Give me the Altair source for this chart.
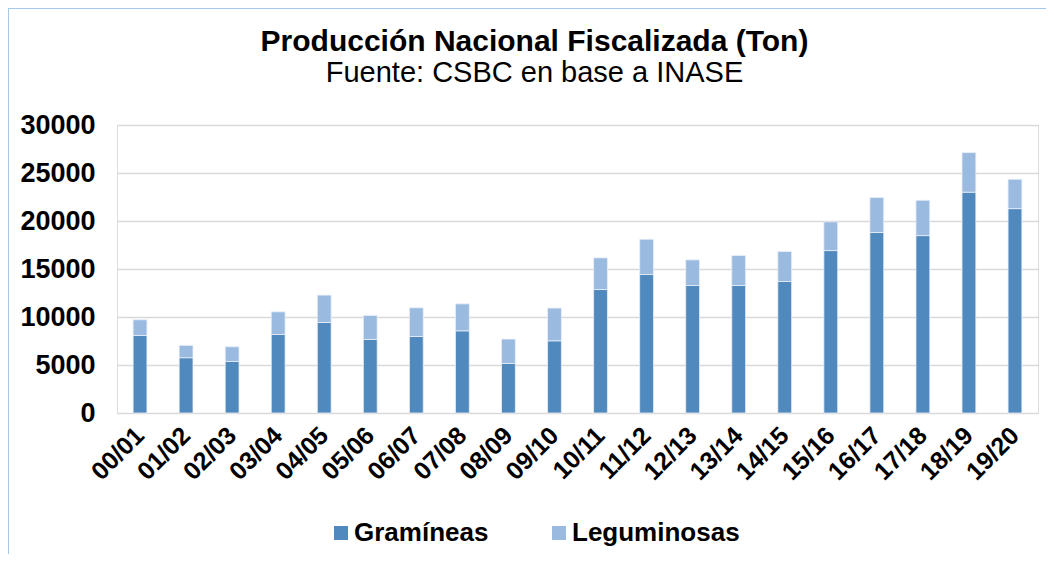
import altair as alt
import pandas as pd

seasons = ["00/01", "01/02", "02/03", "03/04", "04/05", "05/06", "06/07", "07/08", "08/09", "09/10",
           "10/11", "11/12", "12/13", "13/14", "14/15", "15/16", "16/17", "17/18", "18/19", "19/20"]
gramineas = [8080, 5760, 5370, 8180, 9430, 7660, 7970, 8560, 5160, 7520,
             12860, 14430, 13280, 13280, 13700, 16920, 18800, 18480, 23000, 21290]
leguminosas = [1630, 1280, 1530, 2360, 2850, 2500, 2990, 2810, 2540, 3410,
               3300, 3670, 2670, 3120, 3120, 2990, 3640, 3680, 4120, 3060]
series = ["Gramíneas", "Leguminosas"]
colors = ["#4f89bd", "#9abae0"]
y_ticks = [0, 5000, 10000, 15000, 20000, 25000, 30000]

rows = []
for i, s in enumerate(seasons):
    rows.append({"Temporada": s, "Tipo": series[0], "Ton": gramineas[i], "orden": 0})
    rows.append({"Temporada": s, "Tipo": series[1], "Ton": leguminosas[i], "orden": 1})
df = pd.DataFrame(rows)

FONT = "Liberation Sans"

bars = alt.Chart(df).mark_bar(stroke="#e8eff8", strokeWidth=0.8).encode(
    x=alt.X("Temporada:N", sort=seasons, title=None,
            scale=alt.Scale(paddingInner=0.7, paddingOuter=0.35),
            axis=alt.Axis(labelAngle=-45, labelFontSize=25, labelFontWeight="bold",
                          labelColor="black", labelFont=FONT, ticks=False, domain=False,
                          labelAlign="right", labelBaseline="middle",
                          labelPadding=18)),
    y=alt.Y("Ton:Q", stack="zero", title=None,
            scale=alt.Scale(domain=[0, 30000], nice=False),
            axis=alt.Axis(values=y_ticks, labelFontSize=27, labelFontWeight="bold",
                          labelColor="black", labelFont=FONT, ticks=False, domain=False,
                          labelPadding=22, gridColor="#d9d9d9", gridWidth=1.5,
                          format="d")),
    color=alt.Color("Tipo:N", title=None,
                    scale=alt.Scale(domain=series, range=colors),
                    legend=alt.Legend(orient="none", direction="horizontal",
                                      legendX=211, legendY=395, symbolType="square",
                                      symbolSize=196, symbolStrokeWidth=0,
                                      labelFontSize=26, labelFontWeight="bold",
                                      labelFont=FONT, labelColor="black", labelLimit=0,
                                      columnPadding=57, labelOffset=0, padding=0)),
    order=alt.Order("orden:Q", sort="ascending"),
)

frame = alt.Chart(alt.Data(values=[{}]))
top_line = frame.mark_rule(color="#a6c8ea", strokeWidth=3).encode(
    x=alt.value(-109.5), x2=alt.value(1100), y=alt.value(-117.5))
left_line = frame.mark_rule(color="#a6c8ea", strokeWidth=3).encode(
    x=alt.value(-109.5), y=alt.value(-117.5), y2=alt.value(600))

chart = alt.layer(bars, top_line, left_line).properties(
    width=921, height=288,
    autosize=alt.AutoSizeParams(type="none"),
    padding={"left": 109, "top": 117, "right": 8, "bottom": 141},
    title=alt.TitleParams(
        text="Producción Nacional Fiscalizada (Ton)",
        subtitle="Fuente: CSBC en base a INASE",
        anchor="middle", frame="group", dx=-43, offset=-82,
        font=FONT, fontSize=30, fontWeight="bold", color="black",
        subtitleFont=FONT, subtitleFontSize=29, subtitleColor="black",
        subtitlePadding=2),
).configure_view(stroke=None).configure(background="white")

chart.save("out.html", embed_options={"renderer": "svg", "actions": False})
